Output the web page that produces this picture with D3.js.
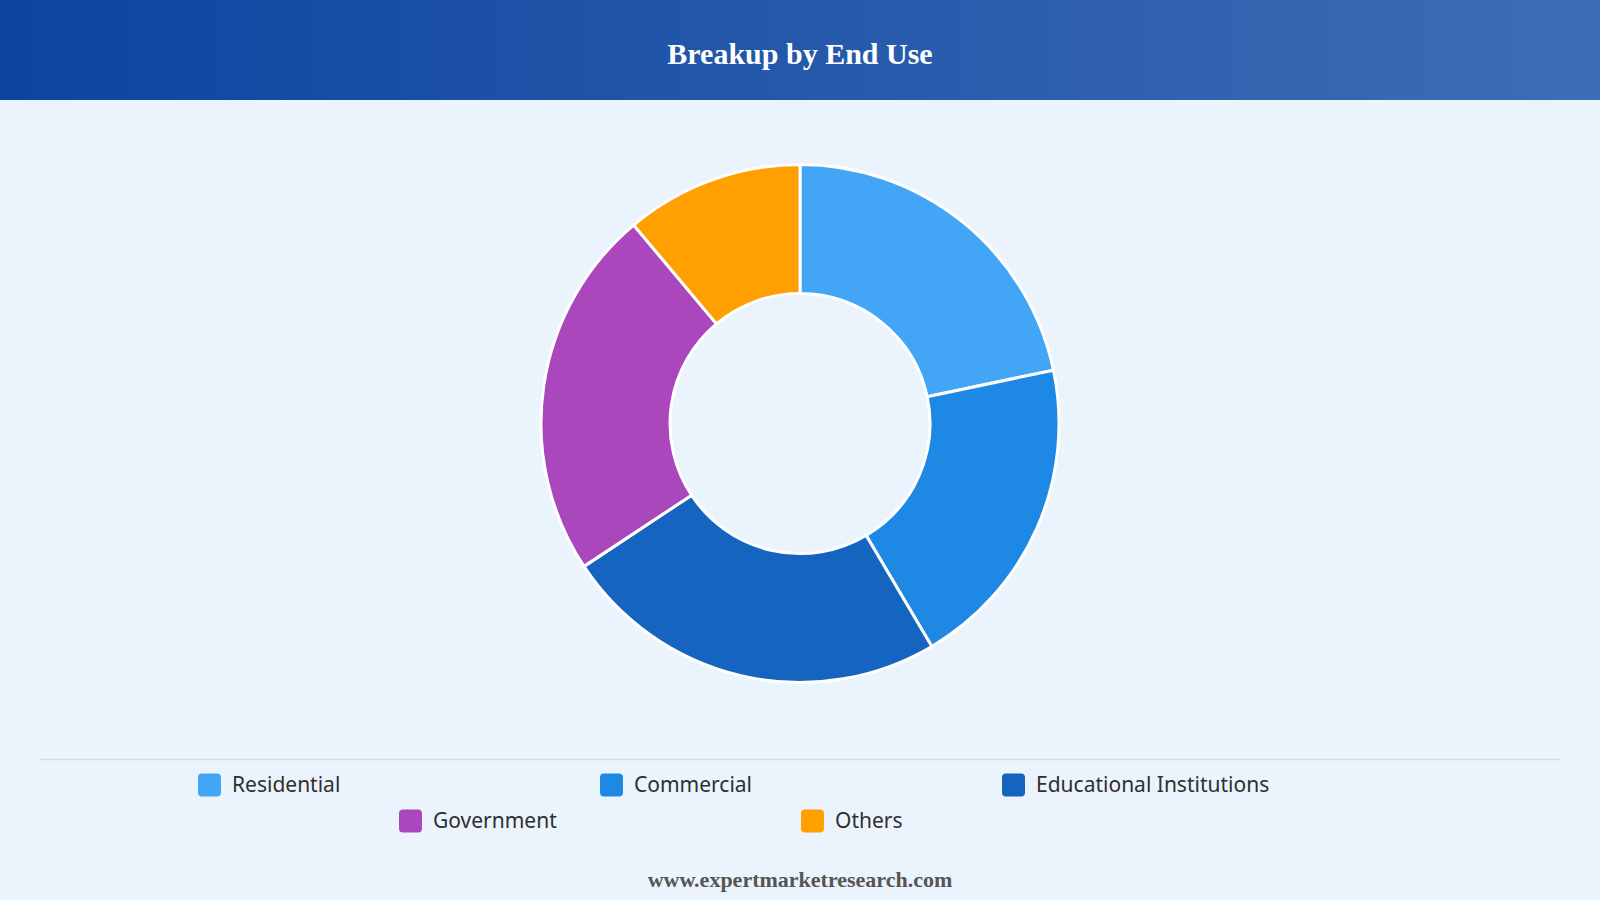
<!DOCTYPE html>
<html>
<head>
<meta charset="utf-8">
<script src="https://cdn.jsdelivr.net/npm/d3@7"></script>
<style>
  html, body { margin: 0; padding: 0; background: #EBF3FC; }
  svg { display: block; }
</style>
</head>
<body>
<svg id="chart"></svg>
<script>
// chart data
const categories = ["Residential", "Commercial", "Educational Institutions", "Government", "Others"];
const shares = [21.7, 19.8, 24.2, 23.2, 11.1];
const colors = ["#42A5F5", "#1E88E5", "#1565C0", "#AB47BC", "#FFA000"];

const titleText = "Breakup by End Use";
const footerText = "www.expertmarketresearch.com";

const w = 1600;
const h = 900;
const headerH = 100;

const svg = d3.select('#chart')
    .attr('width', w)
    .attr('height', h);

// background
svg.append('rect')
    .attr('width', w)
    .attr('height', h)
    .attr('fill', '#EBF3FC');

// header gradient
const defs = svg.append('defs');
const grad = defs.append('linearGradient')
    .attr('id', 'headGrad')
    .attr('x1', '0%').attr('x2', '100%')
    .attr('y1', '0%').attr('y2', '0%');
grad.append('stop').attr('offset', '0%').attr('stop-color', '#0D44A0');
grad.append('stop').attr('offset', '100%').attr('stop-color', '#3D6DB5');

svg.append('rect')
    .attr('width', w)
    .attr('height', headerH)
    .attr('fill', 'url(#headGrad)');

svg.append('text')
    .attr('x', w / 2)
    .attr('y', 64)
    .attr('text-anchor', 'middle')
    .attr('fill', '#ffffff')
    .style('font-family', '"Liberation Serif", "Times New Roman", serif')
    .style('font-weight', 'bold')
    .style('font-size', '30px')
    .text(titleText);

// donut
const cx = 800, cy = 423.5;
const outerR = 259, innerR = 130;

const pie = d3.pie()
    .sort(null)
    .value(d => d);

const arc = d3.arc()
    .innerRadius(innerR)
    .outerRadius(outerR);

const donut = svg.append('g')
    .attr('transform', 'translate(' + cx + ',' + cy + ')');

donut.selectAll('path')
    .data(pie(shares))
    .enter()
    .append('path')
    .attr('d', arc)
    .attr('fill', (d, i) => colors[i])
    .attr('stroke', '#ffffff')
    .attr('stroke-width', 3)
    .attr('stroke-linejoin', 'round');

// separator line above legend
svg.append('line')
    .attr('x1', 40)
    .attr('x2', 1560)
    .attr('y1', 759.5)
    .attr('y2', 759.5)
    .attr('stroke', '#D6DCE3')
    .attr('stroke-width', 1.5);

// legend: fixed width items, centered rows of 3
const itemW = 402;
const perRow = 3;
const rowY = [785, 821];
const box = 23;

const legend = svg.append('g');
categories.forEach((name, i) => {
    const row = Math.floor(i / perRow);
    const col = i % perRow;
    const inRow = Math.min(perRow, categories.length - row * perRow);
    const startX = w / 2 - (inRow * itemW) / 2 + 1;
    const x = startX + col * itemW;
    const y = rowY[row];

    const g = legend.append('g').attr('transform', 'translate(' + x + ',' + y + ')');
    g.append('rect')
        .attr('x', 0)
        .attr('y', -box / 2)
        .attr('width', box)
        .attr('height', box)
        .attr('rx', 4)
        .attr('fill', colors[i]);
    g.append('text')
        .attr('x', box + 11)
        .attr('y', 0)
        .attr('dy', '0.35em')
        .attr('fill', '#2f2f2f')
        .style('font-family', '"Noto Sans", "Open Sans", sans-serif')
        .style('font-size', '21px')
        .text(name);
});

// footer
svg.append('text')
    .attr('x', w / 2)
    .attr('y', 887)
    .attr('text-anchor', 'middle')
    .attr('fill', '#555555')
    .style('font-family', '"Liberation Serif", "Times New Roman", serif')
    .style('font-weight', 'bold')
    .style('font-size', '22px')
    .text(footerText);
</script>
</body>
</html>
